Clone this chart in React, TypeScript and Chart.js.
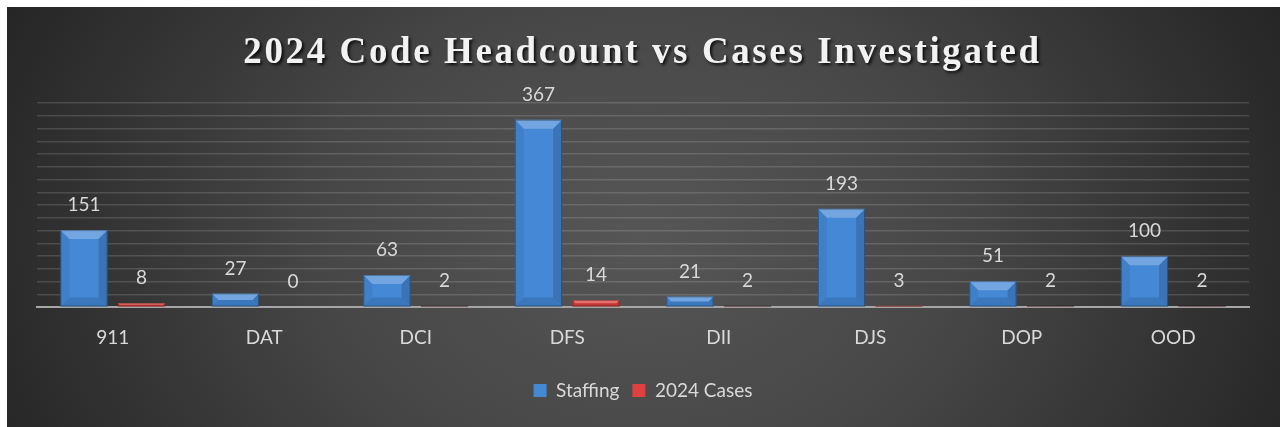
import React, { useEffect, useRef } from "react";
import { Chart, registerables } from "chart.js";

Chart.register(...registerables);

const TITLE = "2024 Code Headcount vs Cases Investigated";
const categories = ["911", "DAT", "DCI", "DFS", "DII", "DJS", "DOP", "OOD"];
const staffing = [151, 27, 63, 367, 21, 193, 51, 100];
const cases2024 = [8, 0, 2, 14, 2, 3, 2, 2];
const seriesNames = ["Staffing", "2024 Cases"];
const Y_MAX = 400;
const Y_STEP = 25;

const TEXT = "#d9d9d9";
const FONT = "Lato, 'Noto Sans', sans-serif";

const bgPlugin = {
  id: "bg",
  beforeDraw(chart: any) {
    const { ctx, width, height } = chart;
    ctx.save();
    ctx.fillStyle = "#2a2a2a";
    ctx.fillRect(0, 0, width, height);
    ctx.translate(width / 2, height * 0.55);
    ctx.scale(1, 0.75);
    const g = ctx.createRadialGradient(0, 0, 0, 0, 0, width * 0.55);
    g.addColorStop(0, "#565656");
    g.addColorStop(0.45, "#474747");
    g.addColorStop(1, "#262626");
    ctx.fillStyle = g;
    ctx.fillRect(-width, -height * 2, width * 2, height * 4);
    ctx.restore();
  },
};

const titlePlugin = {
  id: "customTitle",
  afterDraw(chart: any) {
    const { ctx, width } = chart;
    ctx.save();
    (ctx as any).letterSpacing = "2.6px";
    ctx.font = "bold 37px 'Liberation Serif', 'Times New Roman', serif";
    ctx.textAlign = "center";
    ctx.textBaseline = "alphabetic";
    ctx.shadowColor = "rgba(0,0,0,0.8)";
    ctx.shadowBlur = 3;
    ctx.shadowOffsetX = 2;
    ctx.shadowOffsetY = 2;
    ctx.fillStyle = "#f2f2f2";
    ctx.fillText(TITLE, width / 2 - 1, 56);
    ctx.restore();
  },
};

const bevelPlugin = {
  id: "bevel",
  afterDatasetsDraw(chart: any) {
    const { ctx } = chart;
    ctx.save();
    chart.data.datasets.forEach((ds: any, di: number) => {
      const meta = chart.getDatasetMeta(di);
      meta.data.forEach((bar: any, i: number) => {
        const v = ds.data[i];
        if (!v) return;
        const x0 = bar.x - bar.width / 2;
        const x1 = bar.x + bar.width / 2;
        const y0 = bar.y;
        const y1 = bar.base;
        const h = y1 - y0;
        const b = Math.min(9, h / 2, bar.width / 4);
        const poly = (pts: number[][], fill: string) => {
          ctx.beginPath();
          ctx.moveTo(pts[0][0], pts[0][1]);
          for (let k = 1; k < pts.length; k++) ctx.lineTo(pts[k][0], pts[k][1]);
          ctx.closePath();
          ctx.fillStyle = fill;
          ctx.fill();
        };
        poly([[x0, y0], [x1, y0], [x1 - b, y0 + b], [x0 + b, y0 + b]], "rgba(255,255,255,0.25)");
        poly([[x0, y0], [x0 + b, y0 + b], [x0 + b, y1 - b], [x0, y1]], "rgba(0,0,0,0.06)");
        poly([[x1, y0], [x1 - b, y0 + b], [x1 - b, y1 - b], [x1, y1]], "rgba(0,0,0,0.14)");
        poly([[x0, y1], [x0 + b, y1 - b], [x1 - b, y1 - b], [x1, y1]], "rgba(0,0,0,0.12)");
        ctx.strokeStyle = "rgba(0,0,0,0.3)";
        ctx.lineWidth = 1;
        ctx.strokeRect(x0 + 0.5, y0 + 0.5, x1 - x0 - 1, h - 1);
      });
    });
    ctx.restore();
  },
};

const valueLabelPlugin = {
  id: "valueLabels",
  afterDatasetsDraw(chart: any) {
    const { ctx } = chart;
    ctx.save();
    ctx.font = "19px " + FONT;
    ctx.fillStyle = TEXT;
    ctx.textAlign = "center";
    ctx.textBaseline = "middle";
    chart.data.datasets.forEach((ds: any, di: number) => {
      const meta = chart.getDatasetMeta(di);
      meta.data.forEach((bar: any, i: number) => {
        ctx.fillText(String(ds.data[i]), bar.x, bar.y - 25);
      });
    });
    ctx.restore();
  },
};

export default function App() {
  const ref = useRef<HTMLCanvasElement | null>(null);
  useEffect(() => {
    if (!ref.current) return;
    const chart = new Chart(ref.current, {
      type: "bar",
      data: {
        labels: categories,
        datasets: [
          {
            label: seriesNames[0],
            data: staffing,
            backgroundColor: "#4488d6",
            borderWidth: 0,
            categoryPercentage: 0.76,
            barPercentage: 0.82,
          },
          {
            label: seriesNames[1],
            data: cases2024,
            backgroundColor: "#e0403f",
            borderWidth: 0,
            categoryPercentage: 0.76,
            barPercentage: 0.82,
          },
        ],
      },
      options: {
        animation: false,
        responsive: false,
        maintainAspectRatio: false,
        layout: { padding: { top: 96, left: 30, right: 31, bottom: 17 } },
        plugins: {
          title: { display: false },
          tooltip: { enabled: false },
          legend: {
            position: "bottom",
            labels: {
              color: TEXT,
              font: { family: FONT, size: 19 },
              boxWidth: 13,
              boxHeight: 13,
              padding: 13,
            },
          },
        },
        scales: {
          x: {
            grid: { display: false, drawTicks: false },
            border: { display: true, color: "#a6a6a6", width: 2 },
            ticks: { color: TEXT, font: { family: FONT, size: 19 }, padding: 19 },
          },
          y: {
            min: 0,
            max: Y_MAX,
            ticks: { display: false, stepSize: Y_STEP },
            border: { display: false },
            grid: {
              drawTicks: false,
              color: (c: any) => (c.tick && c.tick.value === 0 ? "rgba(0,0,0,0)" : "rgba(255,255,255,0.14)"),
              lineWidth: 1.5,
            },
          },
        },
      },
      plugins: [bgPlugin, bevelPlugin, valueLabelPlugin, titlePlugin],
    });
    return () => chart.destroy();
  }, []);
  return (
    <div style={{ position: "fixed", left: 7, top: 7, width: 1273, height: 420 }}>
      <canvas ref={ref} width={1273} height={420} style={{ display: "block" }} />
    </div>
  );
}
